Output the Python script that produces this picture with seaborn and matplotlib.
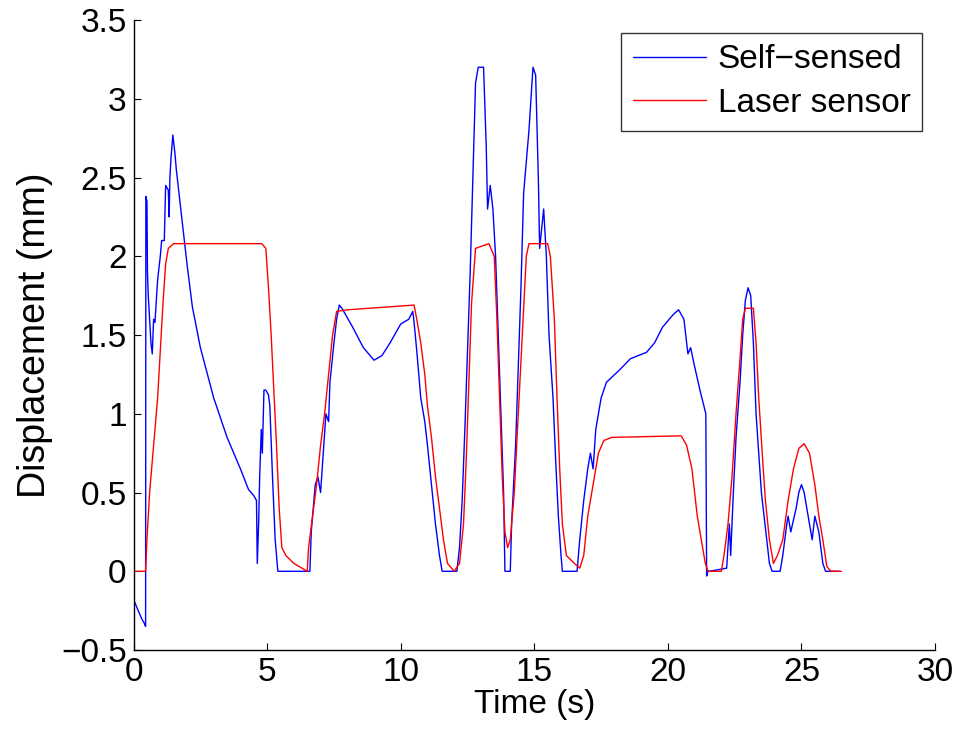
import numpy as np
import pandas as pd
import matplotlib
matplotlib.use("Agg")
import matplotlib.pyplot as plt
from matplotlib.ticker import FuncFormatter
import seaborn as sns

# Self-sensed displacement (blue)
self_t = [0.0, 0.1, 0.2, 0.3, 0.4, 0.45, 0.46, 0.5, 0.52, 0.55, 0.6, 0.65, 0.7, 0.75, 0.8, 0.9,
          1.0, 1.05, 1.15, 1.2, 1.3, 1.33, 1.36, 1.4, 1.47, 1.55, 1.6, 1.7, 1.8, 2.0, 2.2, 2.5,
          3.0, 3.5, 4.0, 4.3, 4.5, 4.6, 4.63, 4.68, 4.72, 4.78, 4.82, 4.88, 4.95, 5.05, 5.1, 5.2,
          5.3, 5.4, 6.6, 6.65, 6.8, 6.9, 7.0, 7.1, 7.2, 7.3, 7.35, 7.5, 7.6, 7.7, 7.8, 8.2,
          8.6, 9.0, 9.3, 9.6, 10.0, 10.3, 10.45, 10.5, 10.6, 10.75, 10.9, 11.0, 11.15, 11.3, 11.45, 11.55,
          12.1, 12.2, 12.3, 12.4, 12.5, 12.6, 12.7, 12.8, 12.9, 13.1, 13.2, 13.25, 13.35, 13.45, 13.55, 13.65,
          13.75, 13.85, 13.9, 14.1, 14.15, 14.3, 14.4, 14.5, 14.6, 14.8, 14.95, 15.05, 15.15, 15.2, 15.35, 15.45,
          15.55, 15.7, 15.8, 15.9, 16.0, 16.05, 16.6, 16.7, 16.85, 17.0, 17.1, 17.2, 17.3, 17.5, 17.7, 18.2,
          18.6, 19.2, 19.5, 19.8, 20.2, 20.4, 20.6, 20.75, 20.85, 21.0, 21.2, 21.42, 21.45, 21.5, 21.55, 22.2,
          22.3, 22.35, 22.45, 22.55, 22.7, 22.8, 22.9, 23.0, 23.1, 23.2, 23.3, 23.4, 23.5, 23.7, 23.8, 23.9,
          24.2, 24.3, 24.45, 24.5, 24.6, 24.8, 24.9, 25.0, 25.1, 25.3, 25.4, 25.5, 25.65, 25.8, 25.9, 26.4]
self_d = [-0.18, -0.22, -0.26, -0.3, -0.33, -0.35, 2.38, 2.35, 1.9, 1.75, 1.6, 1.45, 1.38, 1.6, 1.58, 1.85,
          2.0, 2.1, 2.1, 2.45, 2.42, 2.25, 2.5, 2.62, 2.77, 2.65, 2.55, 2.4, 2.25, 1.95, 1.68, 1.42,
          1.1, 0.85, 0.65, 0.52, 0.48, 0.45, 0.05, 0.3, 0.6, 0.9, 0.75, 1.15, 1.15, 1.12, 1.05, 0.6,
          0.2, 0.0, 0.0, 0.25, 0.55, 0.6, 0.5, 0.75, 1.0, 0.95, 1.2, 1.45, 1.6, 1.69, 1.67, 1.55,
          1.42, 1.34, 1.37, 1.45, 1.57, 1.6, 1.65, 1.58, 1.4, 1.1, 0.95, 0.8, 0.55, 0.3, 0.1, 0.0,
          0.0, 0.15, 0.45, 0.9, 1.4, 1.9, 2.5, 3.1, 3.2, 3.2, 2.7, 2.3, 2.45, 2.3, 2.0, 1.5,
          1.0, 0.5, 0.0, 0.0, 0.3, 0.8, 1.3, 1.8, 2.4, 2.8, 3.2, 3.15, 2.5, 2.05, 2.3, 2.0,
          1.5, 1.1, 0.7, 0.35, 0.1, 0.0, 0.0, 0.2, 0.45, 0.65, 0.75, 0.65, 0.9, 1.1, 1.2, 1.28,
          1.35, 1.39, 1.45, 1.55, 1.63, 1.66, 1.6, 1.38, 1.42, 1.3, 1.15, 1.0, -0.03, 0.0, 0.0, 0.02,
          0.3, 0.1, 0.5, 0.85, 1.2, 1.5, 1.72, 1.8, 1.75, 1.45, 1.0, 0.75, 0.5, 0.2, 0.05, 0.0,
          0.0, 0.1, 0.3, 0.35, 0.25, 0.4, 0.5, 0.55, 0.5, 0.3, 0.2, 0.35, 0.25, 0.05, 0.0, 0.0]

# Laser sensor displacement (red)
laser_t = [0.0, 0.45, 0.5, 0.6, 0.75, 0.9, 1.0, 1.1, 1.2, 1.3, 1.5, 4.8, 4.95, 5.05, 5.15, 5.25,
           5.35, 5.45, 5.55, 5.7, 6.0, 6.3, 6.5, 6.55, 6.7, 6.85, 7.0, 7.15, 7.3, 7.45, 7.6, 8.0,
           10.5, 10.6, 10.75, 10.9, 11.0, 11.15, 11.3, 11.45, 11.6, 11.75, 12.0, 12.2, 12.35, 12.45, 12.55, 12.65,
           12.8, 13.3, 13.5, 13.6, 13.7, 13.8, 13.9, 14.0, 14.1, 14.25, 14.4, 14.55, 14.7, 14.8, 15.5, 15.6,
           15.75, 15.85, 15.95, 16.05, 16.2, 16.5, 16.7, 16.85, 17.0, 17.2, 17.4, 17.6, 17.9, 20.5, 20.7, 20.9,
           21.0, 21.1, 21.25, 21.4, 21.5, 22.0, 22.1, 22.25, 22.4, 22.55, 22.7, 22.8, 22.9, 23.2, 23.3, 23.4,
           23.55, 23.65, 23.8, 23.95, 24.1, 24.3, 24.5, 24.7, 24.9, 25.1, 25.3, 25.5, 25.65, 25.8, 25.95, 26.1,
           26.5]
laser_d = [0.0, 0.0, 0.2, 0.5, 0.8, 1.1, 1.4, 1.7, 1.95, 2.05, 2.08, 2.08, 2.05, 1.8, 1.5, 1.15,
           0.8, 0.4, 0.15, 0.1, 0.05, 0.02, 0.0, 0.15, 0.35, 0.55, 0.8, 1.0, 1.25, 1.5, 1.65, 1.66,
           1.69, 1.6, 1.45, 1.25, 1.05, 0.85, 0.6, 0.4, 0.2, 0.05, 0.0, 0.05, 0.3, 0.7, 1.2, 1.7,
           2.05, 2.08, 2.0, 1.6, 1.1, 0.6, 0.25, 0.15, 0.2, 0.5, 1.0, 1.5, 2.0, 2.08, 2.08, 2.0,
           1.6, 1.1, 0.65, 0.3, 0.1, 0.05, 0.02, 0.1, 0.35, 0.55, 0.75, 0.83, 0.85, 0.86, 0.8, 0.65,
           0.5, 0.35, 0.2, 0.05, 0.0, 0.0, 0.1, 0.3, 0.6, 1.0, 1.35, 1.6, 1.67, 1.67, 1.45, 1.1,
           0.7, 0.45, 0.2, 0.05, 0.1, 0.2, 0.45, 0.65, 0.78, 0.81, 0.75, 0.55, 0.35, 0.2, 0.03, 0.0,
           0.0]

x_ticks = [0, 5, 10, 15, 20, 25, 30]
y_ticks = [-0.5, 0, 0.5, 1, 1.5, 2, 2.5, 3, 3.5]

df = pd.concat([
    pd.DataFrame({"Time": self_t, "Disp": self_d, "Sensor": "Self\u2212sensed"}),
    pd.DataFrame({"Time": laser_t, "Disp": laser_d, "Sensor": "Laser sensor"}),
], ignore_index=True)

sns.set_style("white")
plt.rcParams['font.family'] = ['Liberation Sans', 'DejaVu Sans']
plt.rcParams['text.color'] = 'black'
plt.rcParams['axes.labelcolor'] = 'black'
plt.rcParams['xtick.color'] = 'black'
plt.rcParams['ytick.color'] = 'black'

fig = plt.figure(figsize=(9.61, 7.35), dpi=100)
ax = fig.add_axes([0.139, 0.1156, 0.834, 0.8572])

sns.lineplot(data=df, x="Time", y="Disp", hue="Sensor", palette={"Self\u2212sensed": "#0000ff", "Laser sensor": "#ff0000"},
             estimator=None, sort=False, linewidth=1.0, ax=ax)

ax.set_xlim(0, 30)
ax.set_ylim(-0.5, 3.5)
ax.set_xticks(x_ticks)
ax.set_yticks(y_ticks)
fmt = FuncFormatter(lambda v, p: ("%g" % v).replace("-", "\u2212"))
ax.xaxis.set_major_formatter(fmt)
ax.yaxis.set_major_formatter(fmt)
ax.tick_params(bottom=True, left=True, direction="in", length=5, width=0.8, labelsize=24, pad=5)
ax.set_xlabel("Time (s)", fontsize=24, labelpad=1)
ax.set_ylabel("Displacement (mm)", fontsize=27, labelpad=6)
for s in ["top", "right"]:
    ax.spines[s].set_visible(False)
for s in ["left", "bottom"]:
    ax.spines[s].set_color("black")
    ax.spines[s].set_linewidth(1)

leg = ax.legend(loc="upper right", fontsize=24, frameon=True, fancybox=False, edgecolor="black",
                handlelength=2.2, handletextpad=0.35, borderpad=0.35, labelspacing=0.38,
                borderaxespad=0, bbox_to_anchor=(0.984, 0.98))
leg.get_frame().set_linewidth(1)
for line in leg.get_lines():
    line.set_linewidth(1.0)

fig.savefig("out.png", dpi=100, facecolor="white")
